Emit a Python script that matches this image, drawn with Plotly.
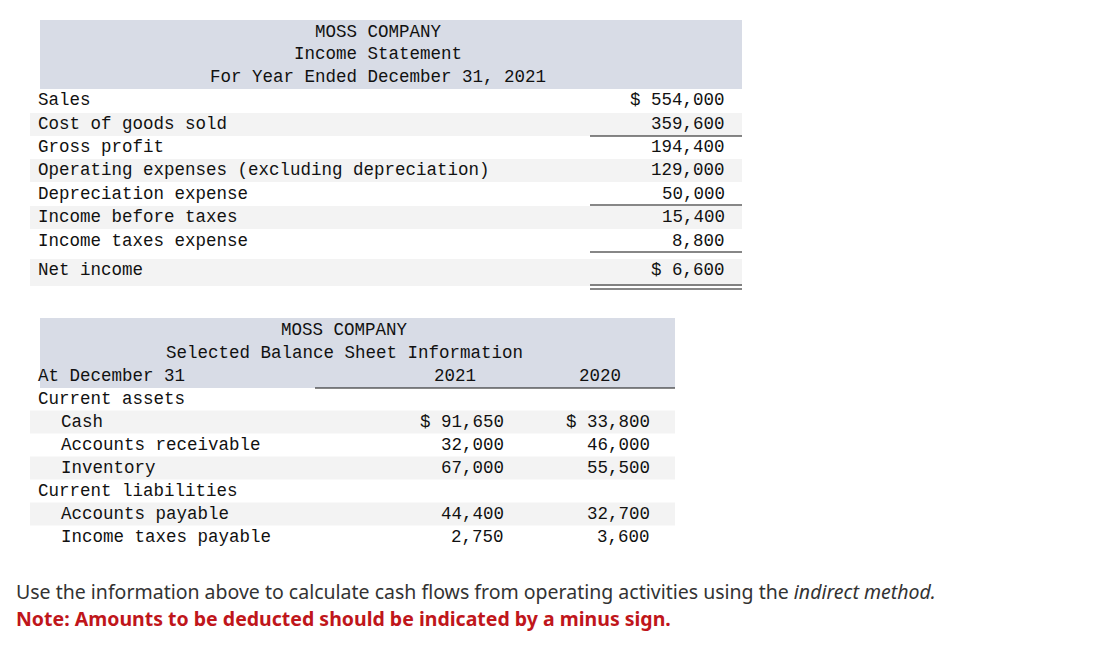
import plotly.graph_objects as go

# Income statement
is_title = ["MOSS COMPANY", "Income Statement", "For Year Ended December 31, 2021"]
is_labels = ["Sales", "Cost of goods sold", "Gross profit",
             "Operating expenses (excluding depreciation)", "Depreciation expense",
             "Income before taxes", "Income taxes expense", "Net income"]
is_values = ["$ 554,000", "359,600", "194,400", "129,000", "50,000", "15,400", "8,800", "$ 6,600"]
is_rows_y = [99, 123, 146, 169, 193, 216, 240, 269]

# Balance sheet
bs_title = ["MOSS COMPANY", "Selected Balance Sheet Information"]
bs_labels = ["Current assets", "Cash", "Accounts receivable", "Inventory",
             "Current liabilities", "Accounts payable", "Income taxes payable"]
bs_indent = [False, True, True, True, False, True, True]
bs_2021 = ["", "$ 91,650", "32,000", "67,000", "", "44,400", "2,750"]
bs_2020 = ["", "$ 33,800", "46,000", "55,500", "", "32,700", "3,600"]
bs_rows_y = [398, 421, 444, 467, 490, 513, 536]

MONO = "Liberation Mono"
FS = 17.5
HEAD = "#d8dce6"
STRIPE = "#f3f3f3"

fig = go.Figure()
shapes, ann = [], []

def txt(x, y, s, anchor="left", **kw):
    ann.append(dict(x=x, y=y, text=s, xanchor=anchor, yanchor="middle", showarrow=False,
                    font=dict(family=kw.get("family", MONO), size=kw.get("size", FS),
                              color=kw.get("color", "#111"))))

def rect(x0, y0, x1, y1, c):
    shapes.append(dict(type="rect", x0=x0, y0=y0, x1=x1, y1=y1, fillcolor=c, line_width=0, layer="below"))

def hline(x0, x1, y, w=1.2):
    shapes.append(dict(type="line", x0=x0, x1=x1, y0=y, y1=y, line=dict(color="#111", width=w)))

# income statement
rect(40, 19, 742, 88, HEAD)
for t, y in zip(is_title, [31, 53, 76]):
    txt(378, y, t, "center")
for i, (lab, val, y) in enumerate(zip(is_labels, is_values, is_rows_y)):
    if i % 2 == 1:
        rect(30, y - 11, 742, y + (12 if i < 7 else 16), STRIPE)
    txt(36, y, lab)
    txt(727, y, val, "right")
hline(590, 742, 135)
hline(590, 742, 204)
hline(590, 742, 251)
hline(590, 742, 284)
hline(590, 742, 288)

# balance sheet
rect(40, 317, 675, 387, HEAD)
txt(344, 329, bs_title[0], "center")
txt(344, 352, bs_title[1], "center")
txt(36, 375, "At December 31")
txt(455, 375, "2021", "center")
txt(600, 375, "2020", "center")
hline(315, 675, 387)
for i, (lab, ind, a, b, y) in enumerate(zip(bs_labels, bs_indent, bs_2021, bs_2020, bs_rows_y)):
    if i % 2 == 1:
        rect(30, y - 11.5, 675, y + 11.5, STRIPE)
    txt(59 if ind else 36, y, lab)
    txt(506, y, a, "right")
    txt(652, y, b, "right")

txt(14, 590, "Use the information above to calculate cash flows from operating activities using the <i>indirect method.</i>",
    family="Noto Sans", size=19.5, color="#333")
txt(14, 617, "<b>Note: Amounts to be deducted should be indicated by a minus sign.</b>",
    family="Noto Sans", size=19.5, color="#c0161b")

# page body margin shifts the plot by 8px, so offset the ranges
fig.update_layout(width=1095, height=655, margin=dict(l=0, r=0, t=0, b=0),
                  plot_bgcolor="white", paper_bgcolor="white",
                  xaxis=dict(range=[8, 1103], visible=False, fixedrange=True),
                  yaxis=dict(range=[662, 7], visible=False, fixedrange=True),
                  shapes=shapes, annotations=ann, showlegend=False)
fig.write_html("out.html")
